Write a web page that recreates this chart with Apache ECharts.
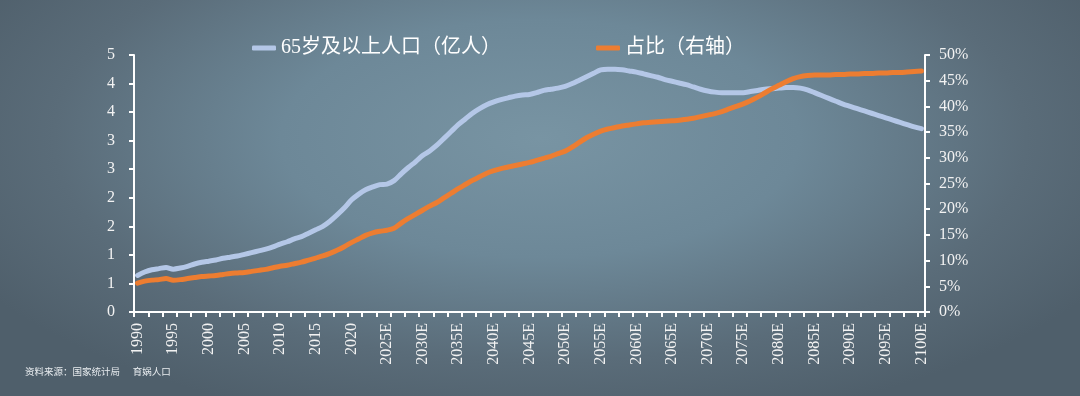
<!DOCTYPE html>
<html>
<head>
<meta charset="utf-8">
<script src="https://cdn.jsdelivr.net/npm/echarts@6/dist/echarts.min.js"></script>
<style>
  html, body { margin: 0; padding: 0; width: 1080px; height: 396px; overflow: hidden; }
  body { background: radial-gradient(ellipse 60% 75% at 50% 35%, #7894a3 0%, #6d8898 40%, #5a6c79 75%, #4f5f6b 100%); }
  #chart { width: 1080px; height: 396px; position: relative; }
  #src { position: absolute; left: 25px; top: 364px; font: 9.5px 'Noto Sans CJK SC', sans-serif; color: #e8ecef; white-space: pre; }
</style>
</head>
<body>
<div id="chart"></div>
<div id="src">资料来源：国家统计局      育娲人口</div>
<script>
// Years 1990 .. 2100 (projections marked with E)
const startYear = 1990, endYear = 2100;
const categories = [];
for (let y = startYear; y <= endYear; y++) categories.push(y >= 2021 ? y + 'E' : String(y));

// 65岁及以上人口（亿人）
const popValues = [
  0.64, 0.70, 0.74, 0.76, 0.78, 0.75, 0.77, 0.80, 0.84, 0.87,  // 1990-1999
  0.89, 0.91, 0.94, 0.96, 0.98, 1.01, 1.04, 1.07, 1.10, 1.14,  // 2000-2009
  1.19, 1.23, 1.28, 1.32, 1.38, 1.44, 1.50, 1.59, 1.70, 1.82,  // 2010-2019
  1.96, 2.06, 2.14, 2.19, 2.23, 2.24, 2.30, 2.42, 2.53, 2.63,  // 2020-2029
  2.74, 2.82, 2.92, 3.04, 3.16, 3.28, 3.38, 3.48, 3.56, 3.63,  // 2030-2039
  3.68, 3.72, 3.75, 3.78, 3.80, 3.81, 3.84, 3.88, 3.90, 3.92,  // 2040-2049
  3.95, 4.00, 4.06, 4.12, 4.18, 4.24, 4.25, 4.25, 4.24, 4.22,  // 2050-2059
  4.20, 4.17, 4.14, 4.11, 4.07, 4.04, 4.01, 3.98, 3.94, 3.90,  // 2060-2069
  3.87, 3.85, 3.84, 3.84, 3.84, 3.84, 3.86, 3.88, 3.90, 3.91,  // 2070-2079
  3.92, 3.93, 3.93, 3.92, 3.89, 3.84, 3.79, 3.74, 3.69, 3.64,  // 2080-2089
  3.60, 3.56, 3.52, 3.48, 3.44, 3.40, 3.36, 3.32, 3.28, 3.24,  // 2090-2099
  3.21                                                          // 2100
];

// 占比（右轴）, percent
const shareValues = [
  5.6, 6.0, 6.2, 6.3, 6.5, 6.2, 6.3, 6.5, 6.7, 6.9,
  7.0, 7.1, 7.3, 7.5, 7.6, 7.7, 7.9, 8.1, 8.3, 8.6,
  8.9, 9.1, 9.4, 9.7, 10.1, 10.5, 10.9, 11.4, 12.0, 12.7,
  13.5, 14.2, 14.9, 15.4, 15.7, 15.9, 16.3, 17.3, 18.2, 19.0,
  19.8, 20.6, 21.3, 22.2, 23.1, 24.0, 24.8, 25.6, 26.3, 27.0,
  27.5, 27.9, 28.2, 28.5, 28.8, 29.1, 29.5, 29.9, 30.3, 30.8,
  31.3, 32.1, 33.0, 33.9, 34.6, 35.2, 35.6, 35.9, 36.2, 36.4,
  36.6, 36.8, 36.9, 37.0, 37.1, 37.2, 37.3, 37.5, 37.7, 38.0,
  38.3, 38.6, 39.0, 39.5, 40.0, 40.5, 41.1, 41.8, 42.6, 43.4,
  44.1, 44.8, 45.4, 45.8, 46.0, 46.1, 46.1, 46.1, 46.2, 46.2,
  46.3, 46.3, 46.4, 46.4, 46.5, 46.5, 46.6, 46.6, 46.7, 46.8,
  46.9
];

// Left axis tick labels as printed (0..4.5 step 0.5, shown rounded)
const leftTickLabels = ['0', '1', '1', '2', '2', '3', '3', '4', '4', '5'];
const seriesNames = ['65岁及以上人口（亿人）', '占比（右轴）'];

const serif = "'Liberation Serif', 'Times New Roman', serif";
const axisLineStyle = { show: true, lineStyle: { color: '#ffffff', width: 2 } };
const tickStyle = { show: true, length: 5, lineStyle: { color: '#ffffff', width: 2 } };

const chart = echarts.init(document.getElementById('chart'), null, { renderer: 'canvas' });
chart.setOption({
  backgroundColor: 'transparent',
  animation: false,
  legend: {
    top: 33,
    left: 247,
    itemGap: 95,
    itemWidth: 24,
    itemHeight: 5,
    icon: 'roundRect',
    textStyle: { color: '#ffffff', fontSize: 20, fontFamily: "'Liberation Serif', 'Noto Sans CJK SC', sans-serif" },
    data: seriesNames
  },
  grid: { left: 134, right: 155, top: 55, bottom: 84, containLabel: false },
  xAxis: {
    type: 'category',
    data: categories,
    boundaryGap: true,
    axisLine: axisLineStyle,
    axisTick: Object.assign({ interval: 1 }, tickStyle),
    axisLabel: {
      interval: 4,
      rotate: 90,
      margin: 11,
      color: '#f2f2f2',
      fontSize: 16,
      fontFamily: serif,
      hideOverlap: false
    },
    splitLine: { show: false }
  },
  yAxis: [
    {
      type: 'value',
      min: 0, max: 4.5, interval: 0.5,
      axisLine: axisLineStyle,
      axisTick: tickStyle,
      splitLine: { show: false },
      axisLabel: {
        color: '#f2f2f2', fontSize: 16, fontFamily: serif, margin: 19,
        formatter: v => leftTickLabels[Math.round(v / 0.5)]
      }
    },
    {
      type: 'value',
      min: 0, max: 50, interval: 5,
      position: 'right',
      axisLine: axisLineStyle,
      axisTick: tickStyle,
      splitLine: { show: false },
      axisLabel: {
        color: '#f2f2f2', fontSize: 16, fontFamily: serif, margin: 14,
        formatter: v => v + '%'
      }
    }
  ],
  series: [
    {
      name: seriesNames[0],
      type: 'line',
      yAxisIndex: 0,
      data: popValues,
      smooth: 0.3,
      showSymbol: false,
      lineStyle: { color: '#b4c7e7', width: 5, cap: 'round', join: 'round' },
      itemStyle: { color: '#b4c7e7' },
      z: 2
    },
    {
      name: seriesNames[1],
      type: 'line',
      yAxisIndex: 1,
      data: shareValues,
      smooth: 0.3,
      showSymbol: false,
      lineStyle: { color: '#ed7d31', width: 5, cap: 'round', join: 'round' },
      itemStyle: { color: '#ed7d31' },
      z: 3
    }
  ]
});
</script>
</body>
</html>
